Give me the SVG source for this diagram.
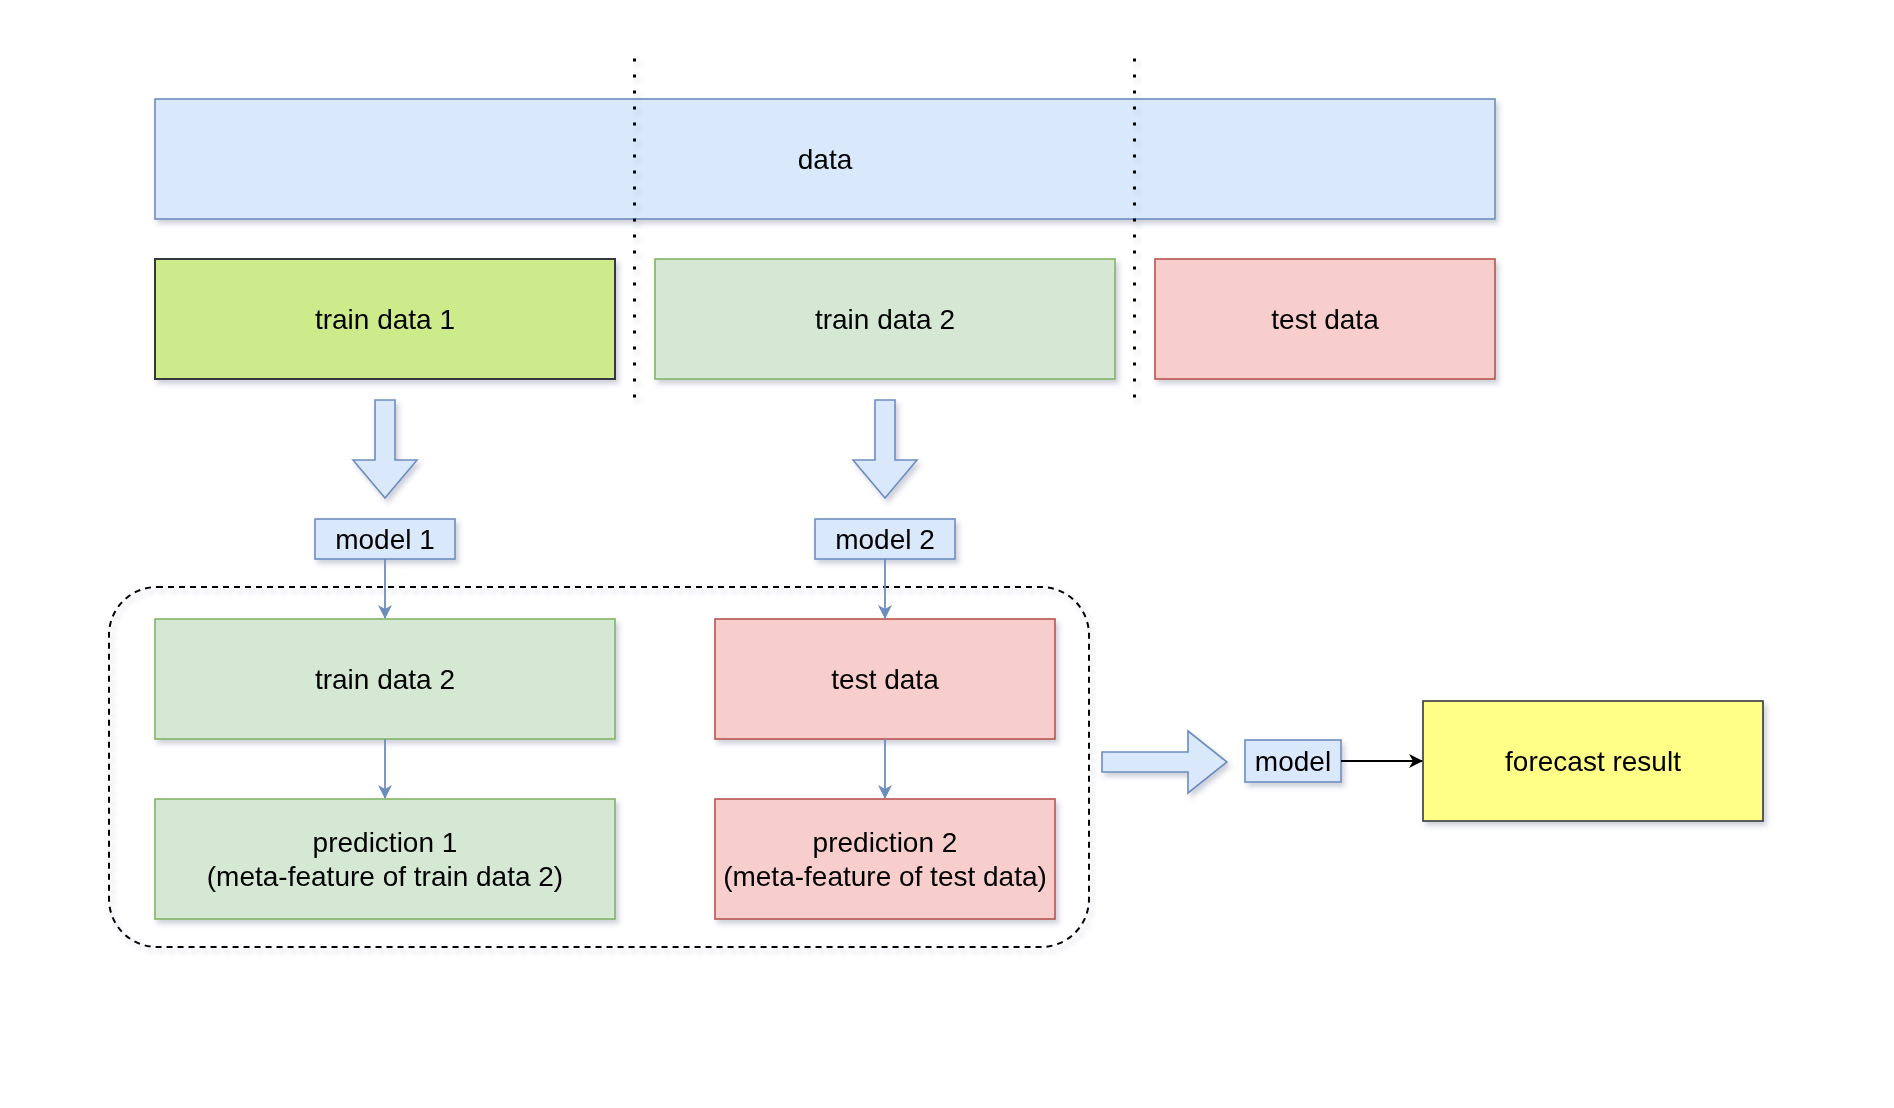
<svg xmlns="http://www.w3.org/2000/svg" width="1894" height="1108" viewBox="0 0 1894 1108">
<defs>
  <filter id="sh" x="-10%" y="-10%" width="130%" height="140%">
    <feDropShadow dx="3" dy="4" stdDeviation="2.5" flood-color="#3a4a70" flood-opacity="0.25"/>
  </filter>
  <marker id="ab" viewBox="0 0 14 14" refX="13" refY="7" markerWidth="14" markerHeight="14" markerUnits="userSpaceOnUse" orient="auto">
    <path d="M0,0 L14,7 L0,14 L4,7 Z" fill="#6c8ebf"/>
  </marker>
  <marker id="ak" viewBox="0 0 14 14" refX="13" refY="7" markerWidth="14" markerHeight="14" markerUnits="userSpaceOnUse" orient="auto">
    <path d="M0,0 L14,7 L0,14 L4,7 Z" fill="#000"/>
  </marker>
</defs>
<style>
  text { font-family: "Liberation Sans", Arial, Helvetica, sans-serif; font-size: 28px; fill: #000; text-anchor: middle; }
  .blue { fill: #dae8fc; stroke: #6c8ebf; stroke-width: 1.6; }
  .green { fill: #d5e8d4; stroke: #82b366; stroke-width: 1.6; }
  .red { fill: #f8cecc; stroke: #b85450; stroke-width: 1.6; }
  .lime { fill: #cdeb8b; stroke: #36393d; stroke-width: 2; }
  .yellow { fill: #ffff88; stroke: #36393d; stroke-width: 1.6; }
  .dots { stroke: #000; stroke-width: 3; stroke-dasharray: 3 13; fill: none; }
  .conn { stroke: #6c8ebf; stroke-width: 1.8; fill: none; }
</style>

<g id="container" filter="url(#sh)">
  <rect x="109" y="587" width="980" height="360" rx="48" ry="48" fill="none" stroke="#000" stroke-width="2" stroke-dasharray="6 5"/>
</g>

<g id="data" filter="url(#sh)">
  <rect class="blue" x="155" y="99" width="1340" height="120"/>
  <text x="825" y="169">data</text>
</g>

<g id="separators" filter="url(#sh)">
  <line class="dots" x1="634.5" y1="58.5" x2="634.5" y2="400"/>
  <line class="dots" x1="1134.5" y1="58.5" x2="1134.5" y2="400"/>
</g>

<g id="train-data-1" filter="url(#sh)">
  <rect class="lime" x="155" y="259" width="460" height="120"/>
  <text x="385" y="329">train data 1</text>
</g>

<g id="train-data-2-top" filter="url(#sh)">
  <rect class="green" x="655" y="259" width="460" height="120"/>
  <text x="885" y="329">train data 2</text>
</g>

<g id="test-data-top" filter="url(#sh)">
  <rect class="red" x="1155" y="259" width="340" height="120"/>
  <text x="1325" y="329">test data</text>
</g>

<g id="block-arrow-1" filter="url(#sh)">
  <path class="blue" d="M375,400 L395,400 L395,460 L417,460 L385,498 L353,460 L375,460 Z"/>
</g>

<g id="block-arrow-2" filter="url(#sh)">
  <path class="blue" d="M875,400 L895,400 L895,460 L917,460 L885,498 L853,460 L875,460 Z"/>
</g>

<g id="model-1" filter="url(#sh)">
  <rect class="blue" x="315" y="519" width="140" height="40"/>
  <text x="385" y="549">model 1</text>
</g>

<g id="model-2" filter="url(#sh)">
  <rect class="blue" x="815" y="519" width="140" height="40"/>
  <text x="885" y="549">model 2</text>
</g>

<g id="train-data-2" filter="url(#sh)">
  <rect class="green" x="155" y="619" width="460" height="120"/>
  <text x="385" y="689">train data 2</text>
</g>

<g id="test-data" filter="url(#sh)">
  <rect class="red" x="715" y="619" width="340" height="120"/>
  <text x="885" y="689">test data</text>
</g>

<g id="prediction-1" filter="url(#sh)">
  <rect class="green" x="155" y="799" width="460" height="120"/>
  <text x="385" y="852">prediction 1</text>
  <text x="385" y="886">(meta-feature of train data 2)</text>
</g>

<g id="prediction-2" filter="url(#sh)">
  <rect class="red" x="715" y="799" width="340" height="120"/>
  <text x="885" y="852">prediction 2</text>
  <text x="885" y="886">(meta-feature of test data)</text>
</g>

<g id="block-arrow-right" filter="url(#sh)">
  <path class="blue" d="M1102,752 L1188,752 L1188,731 L1227,762 L1188,793 L1188,772 L1102,772 Z"/>
</g>

<g id="model" filter="url(#sh)">
  <rect class="blue" x="1245" y="740" width="96" height="42"/>
  <text x="1293" y="771">model</text>
</g>

<g id="forecast-result" filter="url(#sh)">
  <rect class="yellow" x="1423" y="701" width="340" height="120"/>
  <text x="1593" y="771">forecast result</text>
</g>

<g id="connectors">
  <line class="conn" x1="385" y1="559" x2="385" y2="618" marker-end="url(#ab)"/>
  <line class="conn" x1="885" y1="559" x2="885" y2="618" marker-end="url(#ab)"/>
  <line class="conn" x1="385" y1="739" x2="385" y2="798" marker-end="url(#ab)"/>
  <line class="conn" x1="885" y1="739" x2="885" y2="798" marker-end="url(#ab)"/>
  <line x1="1341" y1="761" x2="1422" y2="761" stroke="#000" stroke-width="1.8" marker-end="url(#ak)"/>
</g>
</svg>
